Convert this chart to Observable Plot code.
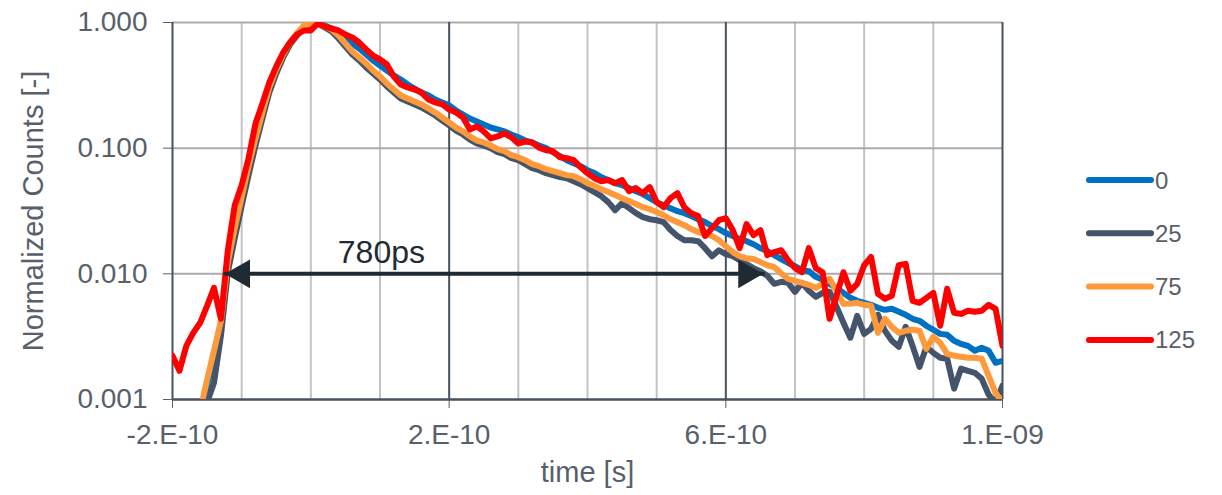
<!DOCTYPE html>
<html>
<head>
<meta charset="utf-8">
<script src="https://cdn.jsdelivr.net/npm/d3@7"></script>
<script src="https://cdn.jsdelivr.net/npm/@observablehq/plot@0.6"></script>
<style>
  html, body { margin: 0; padding: 0; background: #fff; }
  #wrap { position: relative; width: 1222px; height: 495px; }
  #legend { position: absolute; left: 0; top: 0; pointer-events: none; }
</style>
</head>
<body>
<div id="wrap"></div>
<script>
// time in ps
const times = [
  -200,-190,-180,-170,-160,-150,-140,-130,-120,-110,
  -100,-90,-80,-70,-60,-50,-40,-30,-20,-10,
  0,10,20,30,40,50,60,70,80,90,
  100,110,120,130,140,150,160,170,180,190,
  200,210,220,230,240,250,260,270,280,290,
  300,310,320,330,340,350,360,370,380,390,
  400,410,420,430,440,450,460,470,480,490,
  500,510,520,530,540,550,560,570,580,590,
  600,610,620,630,640,650,660,670,680,690,
  700,710,720,730,740,750,760,770,780,790,
  800,810,820,830,840,850,860,870,880,890,
  900,910,920,930,940,950,960,970,980,990,
  1000
];

const series0 = [
  null,null,null,null,0.000746,0.001285,0.00219,0.00379,0.0111,0.0215,
  0.0386,0.0681,0.115,0.185,0.293,0.415,0.546,0.693,0.8175,0.929,
  0.982,1.0,0.9465,0.896,0.833,0.760,0.681,0.621,0.5565,0.4986,
  0.455,0.415,0.379,0.352,0.321,0.2985,0.277,0.263,0.244,0.231,
  0.219,0.1995,0.185,0.172,0.163,0.154,0.146,0.141,0.136,0.1285,
  0.122,0.115,0.111,0.105,0.1,0.0929,0.0864,0.0803,0.0760,0.0719,
  0.0668,0.0633,0.0588,0.0557,0.0527,0.0508,0.0481,0.0455,0.0431,0.0400,
  0.0372,0.0352,0.0333,0.0315,0.0304,0.0288,0.0272,0.0258,0.0240,0.0227,
  0.0211,0.0200,0.0189,0.0182,0.0172,0.0160,0.0152,0.0141,0.0131,0.0122,
  0.0115,0.0107,0.0105,0.00947,0.00896,0.00833,0.00774,0.00706,0.00644,0.00610,
  0.00588,0.00567,0.00537,0.00517,0.00527,0.00499,0.00472,0.00439,0.00423,0.00386,
  0.00359,0.00333,0.00327,0.00293,0.00277,0.00267,0.00244,0.00258,0.00244,0.00196,
  0.00203
];

const series25 = [
  null,null,null,null,null,0.000947,0.00136,0.00321,0.01032,0.01923,
  0.03457,0.0610,0.1051,0.1723,0.2774,0.393,0.527,0.668,0.788,0.9125,
  0.982,0.982,0.9125,0.848,0.746,0.644,0.5565,0.4986,0.4386,0.393,
  0.352,0.310,0.277,0.2485,0.235,0.223,0.211,0.196,0.182,0.166,
  0.152,0.138,0.1285,0.117,0.109,0.105,0.1,0.0929,0.0896,0.0833,
  0.0803,0.0746,0.0693,0.0668,0.0633,0.0610,0.0588,0.0577,0.0546,0.0517,
  0.0481,0.0447,0.0415,0.0372,0.0321,0.0365,0.0333,0.0304,0.0283,0.0272,
  0.0267,0.0258,0.0223,0.0200,0.0185,0.0185,0.0182,0.0160,0.0138,0.0154,
  0.01435,0.0138,0.01285,0.01195,0.0111,0.0105,0.00964,0.00833,0.00864,0.00848,
  0.00719,0.00848,0.00733,0.00656,0.00706,0.00719,0.00546,0.00408,0.00310,0.00463,
  0.00333,0.00365,0.00472,0.00352,0.00293,0.00263,0.00379,0.00267,0.00182,0.00263,
  0.00235,0.00215,0.00211,0.00122,0.00176,0.00169,0.00163,0.00146,0.00109,0.000947,
  0.00129
];

const series75 = [
  null,null,null,null,0.000818,0.001435,0.00244,0.00423,0.01239,0.0231,
  0.0408,0.0719,0.1195,0.1923,0.304,0.423,0.5565,0.693,0.8175,0.9465,
  0.982,0.982,0.929,0.880,0.788,0.681,0.588,0.527,0.472,0.415,
  0.372,0.327,0.293,0.263,0.2485,0.235,0.223,0.207,0.192,0.1755,
  0.160,0.146,0.136,0.124,0.115,0.111,0.105,0.0982,0.0947,0.0880,
  0.0848,0.0803,0.0746,0.0719,0.0681,0.0656,0.0633,0.0610,0.0599,0.0567,
  0.0527,0.0499,0.0472,0.0447,0.0423,0.0400,0.0379,0.0359,0.0339,0.0327,
  0.0310,0.0293,0.0272,0.0258,0.0244,0.0227,0.0215,0.0207,0.0200,0.0185,
  0.0166,0.0149,0.0138,0.0133,0.0131,0.0124,0.0117,0.0113,0.0101,0.00912,
  0.00880,0.00848,0.00818,0.00774,0.00833,0.00912,0.00733,0.00577,0.00577,0.00588,
  0.00567,0.00557,0.00339,0.00439,0.00379,0.00339,0.00352,0.00359,0.00352,0.00253,
  0.00315,0.00283,0.00231,0.00223,0.00219,0.00215,0.00215,0.00211,0.00154,0.00113,
  0.000947
];

const series125 = [
  0.00223,0.00169,0.00267,0.00339,0.00408,0.00557,0.00774,0.00439,0.0154,0.0352,
  0.0508,0.0833,0.157,0.227,0.333,0.447,0.577,0.693,0.803,0.864,
  0.864,0.982,0.929,0.896,0.864,0.803,0.760,0.693,0.610,0.546,
  0.508,0.463,0.372,0.321,0.304,0.293,0.277,0.244,0.231,0.223,
  0.203,0.192,0.1755,0.141,0.149,0.136,0.1195,0.124,0.131,0.122,
  0.109,0.113,0.111,0.101,0.0964,0.0947,0.0848,0.0833,0.0803,0.0706,
  0.0633,0.0577,0.0546,0.0557,0.0527,0.0557,0.0455,0.0481,0.0439,0.0490,
  0.0372,0.0339,0.0400,0.0439,0.0339,0.0304,0.0288,0.0200,0.0231,0.0267,
  0.0277,0.0223,0.0160,0.0249,0.0203,0.0223,0.0141,0.0149,0.0154,0.01285,
  0.0111,0.0103,0.0160,0.0111,0.0103,0.00439,0.00668,0.0103,0.00733,0.00833,
  0.0117,0.0136,0.00693,0.00633,0.00668,0.0117,0.0120,0.00610,0.00588,0.00644,
  0.00706,0.00386,0.00760,0.00490,0.00480,0.00508,0.00499,0.00508,0.00567,0.00527,
  0.00267
];

const seriesNames = ["0", "25", "75", "125"];
const seriesValues = [series0, series25, series75, series125];
const seriesColors = ["#0070C0", "#44546A", "#FF9A3C", "#FF0000"];

const xTicks = [-200, 200, 600, 1000];
const xTickLabels = ["-2.E-10", "2.E-10", "6.E-10", "1.E-09"];
const xMinorGrid = [-100, 0, 100, 300, 400, 500, 700, 800, 900];
const yTicks = [0.001, 0.01, 0.1, 1];
const yTickLabels = ["0.001", "0.010", "0.100", "1.000"];

const arrowStart = -124, arrowEnd = 654, arrowLevel = 0.01;
const arrowLabel = "780ps", arrowLabelT = 102;
const xTitle = "time [s]";
const yTitle = "Normalized Counts [-]";

const tables = seriesValues.map((vals, k) =>
  times.map((t, i) => ({t, v: vals[i], s: seriesNames[k]}))
);

const font = "'Liberation Sans', Arial, Helvetica, sans-serif";
const textColor = "#56616b";
const darkLine = "#46525d";
const arrowColor = "#1f2a33";

const chart = Plot.plot({
  width: 1222,
  height: 495,
  marginLeft: 172,
  marginRight: 220,
  marginTop: 22,
  marginBottom: 96,
  style: {fontFamily: font, fontSize: "28px", color: textColor, background: "#fff", overflow: "visible"},
  x: {
    domain: [-200, 1000],
    ticks: xTicks,
    tickFormat: d => xTickLabels[xTicks.indexOf(d)],
    tickSize: 9,
    tickPadding: 16,
    label: null
  },
  y: {
    type: "log",
    domain: [0.001, 1],
    ticks: yTicks,
    tickFormat: d => yTickLabels[yTicks.indexOf(d)],
    tickSize: 9,
    tickPadding: 16,
    label: null
  },
  marks: [
    Plot.ruleX(xMinorGrid, {stroke: "#c3c3c3", strokeWidth: 2}),
    Plot.ruleY(yTicks.slice(1), {stroke: "#ababab", strokeWidth: 2}),
    Plot.ruleX(xTicks, {stroke: darkLine, strokeWidth: 2}),
    Plot.ruleY([yTicks[0]], {stroke: darkLine, strokeWidth: 2.5}),
    ...tables.map((tab, k) => Plot.line(tab, {
      x: "t", y: "v",
      stroke: seriesColors[k],
      strokeWidth: 6,
      strokeLinejoin: "round",
      strokeLinecap: "round",
      clip: true
    })),
    Plot.line([{t: arrowStart, v: arrowLevel}, {t: arrowEnd, v: arrowLevel}], {
      x: "t", y: "v", stroke: arrowColor, strokeWidth: 4
    }),
    Plot.dot([{t: arrowStart, v: arrowLevel}], {
      x: "t", y: "v", symbol: "triangle", r: 10.7, fill: arrowColor, stroke: "none", rotate: -90, dx: 16.6
    }),
    Plot.dot([{t: arrowEnd, v: arrowLevel}], {
      x: "t", y: "v", symbol: "triangle", r: 10.7, fill: arrowColor, stroke: "none", rotate: 90, dx: -16.6
    }),
    Plot.text([{t: arrowLabelT, v: arrowLevel, label: arrowLabel}], {
      x: "t", y: "v", text: "label", dy: -11, lineAnchor: "bottom", textAnchor: "middle",
      fontSize: 32, fill: arrowColor
    }),
    Plot.text([xTitle], {
      text: d => d, frameAnchor: "bottom", dy: 73, lineAnchor: "middle", textAnchor: "middle",
      fontSize: 29, fill: textColor
    }),
    Plot.text([yTitle], {
      text: d => d, frameAnchor: "left", dx: -139, rotate: -90, lineAnchor: "middle", textAnchor: "middle",
      fontSize: 29, fill: textColor
    })
  ]
});

const wrap = document.getElementById("wrap");
wrap.appendChild(chart);

// legend (drawn beside the chart)
const ns = "http://www.w3.org/2000/svg";
const leg = document.createElementNS(ns, "svg");
leg.setAttribute("id", "legend");
leg.setAttribute("width", 1222);
leg.setAttribute("height", 495);
seriesNames.forEach((name, k) => {
  const y = 180 + k * 53.3;
  const ln = document.createElementNS(ns, "line");
  ln.setAttribute("x1", 1089); ln.setAttribute("x2", 1151);
  ln.setAttribute("y1", y); ln.setAttribute("y2", y);
  ln.setAttribute("stroke", seriesColors[k]);
  ln.setAttribute("stroke-width", 6);
  ln.setAttribute("stroke-linecap", "round");
  leg.appendChild(ln);
  const tx = document.createElementNS(ns, "text");
  tx.setAttribute("x", 1155);
  tx.setAttribute("y", y + 8.5);
  tx.setAttribute("fill", "#5a5f66");
  tx.setAttribute("font-family", font);
  tx.setAttribute("font-size", 24);
  tx.textContent = name;
  leg.appendChild(tx);
});
wrap.appendChild(leg);
</script>
</body>
</html>
